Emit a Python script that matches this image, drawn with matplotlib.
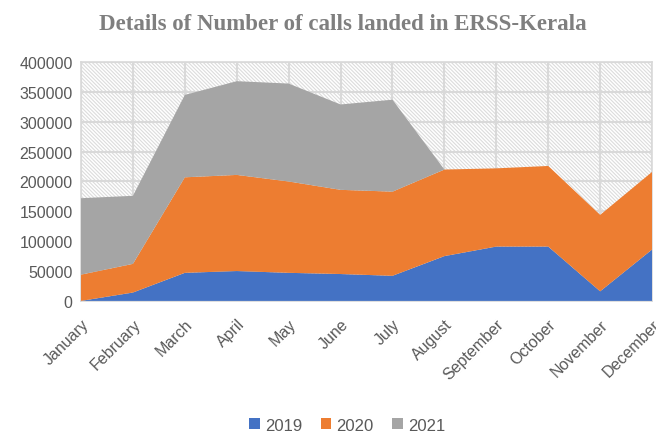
import numpy as np
import matplotlib
matplotlib.use("Agg")
import matplotlib.pyplot as plt
from matplotlib.patches import Rectangle

months = ["January", "February", "March", "April", "May", "June", "July",
          "August", "September", "October", "November", "December"]
calls_2019 = [0, 14000, 47000, 50000, 47000, 45000, 42000, 75000, 91000, 91000, 16000, 86000]
calls_2020 = [44000, 48000, 160000, 161000, 153000, 141000, 141000, 145000, 131000, 135000, 128000, 130000]
calls_2021 = [128000, 114000, 138000, 157000, 164000, 143000, 154000, 0, 0, 0, 0, 0]
years = ["2019", "2020", "2021"]
colors = ["#4472C4", "#ED7D31", "#A5A5A5"]

plt.rcParams["font.family"] = ["Liberation Sans", "DejaVu Sans"]
plt.rcParams["hatch.linewidth"] = 0.8

fig = plt.figure(figsize=(6.56, 4.35), dpi=100)
ax = fig.add_axes([0.1235, 0.306, 0.8705, 0.549])

x = np.arange(len(months))
ax.set_xlim(0, len(months) - 1)
ax.set_ylim(0, 400000)

# hatched plot-area background
bg = Rectangle((0, 0), 1, 1, transform=ax.transAxes, facecolor="white",
               edgecolor="#dcdcdc", linewidth=0, hatch="\\" * 9, zorder=0)
ax.add_patch(bg)
ax.patch.set_visible(False)

ax.stackplot(x, calls_2019, calls_2020, calls_2021, colors=colors,
             labels=years, zorder=3, linewidth=0)

ax.set_yticks(np.arange(0, 400001, 50000))
ax.set_xticks(x)
ax.set_xticklabels(months, rotation=45, ha="right", rotation_mode="anchor")
ax.grid(True, color="#d9d9d9", linewidth=1.5, zorder=1)
ax.set_axisbelow(True)
ax.tick_params(length=0, labelsize=11.5, labelcolor="#595959", pad=6)
ax.tick_params(axis="x", pad=11)
for s in ax.spines.values():
    s.set_color("#d9d9d9")
    s.set_linewidth(1.2)

fig.suptitle("Details of Number of calls landed in ERSS-Kerala", x=0.523, y=0.968,
             fontsize=16.5, fontweight="bold", color="#7f7f7f",
             family=["Liberation Serif"])

ax.legend(loc="center", bbox_to_anchor=(0.466, -0.52), ncol=3, frameon=False,
          fontsize=12, labelcolor="#595959", handlelength=0.65, handleheight=0.65,
          handletextpad=0.3, columnspacing=1.1)

fig.savefig("out.png", dpi=100)
